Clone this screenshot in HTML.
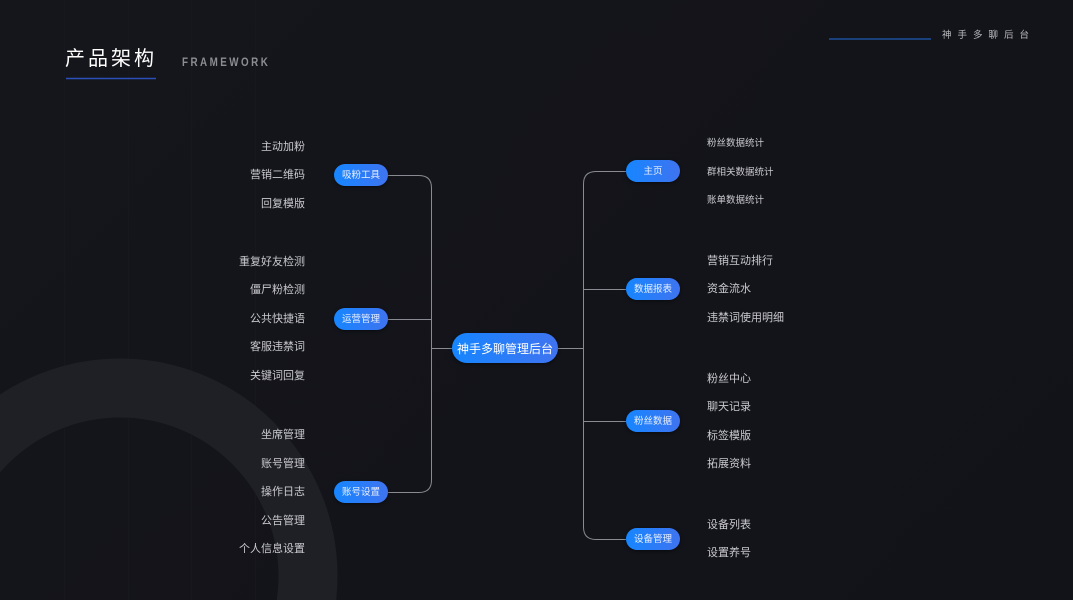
<!DOCTYPE html>
<html><head><meta charset="utf-8"><style>
*{margin:0;padding:0;box-sizing:border-box}
html,body{width:1073px;height:600px;overflow:hidden}
body{background:#14151b;font-family:"Liberation Sans","Noto Sans CJK SC",sans-serif;position:relative}
.bg{position:absolute;left:0;top:0;width:1073px;height:600px;background:linear-gradient(135deg,#15161c 0%,#13141a 60%,#121319 100%)}
.t{position:absolute;color:#c9c9ce;font-size:11px;line-height:14px;white-space:nowrap}
.l{text-align:right;width:120px;left:185px}
.r{left:707px}
.s{font-size:9.5px}
.p{position:absolute;height:22px;border-radius:11px;background:linear-gradient(90deg,#1686ff,#3f73f0);color:#e8f0ff;font-size:9.5px;display:flex;align-items:center;justify-content:center;box-shadow:0 1px 3px rgba(0,0,0,.5);white-space:nowrap}
.p span{display:block;line-height:12px;margin-top:1px}
</style></head><body>
<div class="bg"></div>
<svg width="1073" height="600" style="position:absolute;left:0;top:0">
<g stroke="#17181e" stroke-width="1">
<line x1="64.5" y1="0" x2="64.5" y2="600"/><line x1="128.5" y1="0" x2="128.5" y2="600"/><line x1="191.5" y1="0" x2="191.5" y2="600"/><line x1="255.5" y1="0" x2="255.5" y2="600"/>
</g>
<circle cx="120" cy="576" r="188" fill="none" stroke="#1f2026" stroke-width="59"/>
<line x1="66" y1="78.5" x2="156" y2="78.5" stroke="#2b4fb8" stroke-width="1.5"/>
<line x1="829" y1="39" x2="931" y2="39" stroke="#1f5bb5" stroke-width="1.2"/>
<g fill="none" stroke="#8a8b92" stroke-width="1">
<path d="M388 175.5 H419 Q431.5 175.5 431.5 188 V480 Q431.5 492.5 419 492.5 H388"/>
<path d="M388 319.5 H431.5"/>
<path d="M431.5 348.5 H452"/>
<path d="M558 348.5 H583.5"/>
<path d="M626 171.5 H596 Q583.5 171.5 583.5 184 V527 Q583.5 539.5 596 539.5 H626"/>
<path d="M583.5 289.5 H626"/>
<path d="M583.5 421.5 H626"/>
</g>
</svg>
<div style="position:absolute;left:65px;top:45px;color:#fff;font-size:20px;letter-spacing:3px;line-height:28px;white-space:nowrap">产品架构</div>
<div style="position:absolute;left:182px;top:55px;color:#8c8d93;font-size:12px;letter-spacing:3px;font-weight:bold;line-height:14px;transform:scaleX(0.82);transform-origin:left;white-space:nowrap">FRAMEWORK</div>
<div style="position:absolute;left:942px;top:30px;color:#b8b9be;font-size:9.5px;letter-spacing:6px;line-height:12px;white-space:nowrap">神手多聊后台</div>

<div class="t l" style="top:140px">主动加粉</div>
<div class="t l" style="top:168px">营销二维码</div>
<div class="t l" style="top:197px">回复模版</div>
<div class="t l" style="top:255px">重复好友检测</div>
<div class="t l" style="top:283px">僵尸粉检测</div>
<div class="t l" style="top:312px">公共快捷语</div>
<div class="t l" style="top:340px">客服违禁词</div>
<div class="t l" style="top:369px">关键词回复</div>
<div class="t l" style="top:428px">坐席管理</div>
<div class="t l" style="top:457px">账号管理</div>
<div class="t l" style="top:485px">操作日志</div>
<div class="t l" style="top:514px">公告管理</div>
<div class="t l" style="top:542px">个人信息设置</div>

<div class="p" style="left:334px;top:164px;width:54px"><span>吸粉工具</span></div>
<div class="p" style="left:334px;top:308px;width:54px"><span>运营管理</span></div>
<div class="p" style="left:334px;top:481px;width:54px"><span>账号设置</span></div>
<div class="p" style="left:452px;top:333px;width:106px;height:30px;border-radius:15px;font-size:12px;color:#fff"><span style="line-height:14px">神手多聊管理后台</span></div>
<div class="p" style="left:626px;top:160px;width:54px"><span>主页</span></div>
<div class="p" style="left:626px;top:278px;width:54px"><span>数据报表</span></div>
<div class="p" style="left:626px;top:410px;width:54px"><span>粉丝数据</span></div>
<div class="p" style="left:626px;top:528px;width:54px"><span>设备管理</span></div>

<div class="t r s" style="top:137px">粉丝数据统计</div>
<div class="t r s" style="top:166px">群相关数据统计</div>
<div class="t r s" style="top:194px">账单数据统计</div>
<div class="t r" style="top:254px">营销互动排行</div>
<div class="t r" style="top:282px">资金流水</div>
<div class="t r" style="top:311px">违禁词使用明细</div>
<div class="t r" style="top:372px">粉丝中心</div>
<div class="t r" style="top:400px">聊天记录</div>
<div class="t r" style="top:429px">标签模版</div>
<div class="t r" style="top:457px">拓展资料</div>
<div class="t r" style="top:518px">设备列表</div>
<div class="t r" style="top:546px">设置养号</div>
</body></html>
